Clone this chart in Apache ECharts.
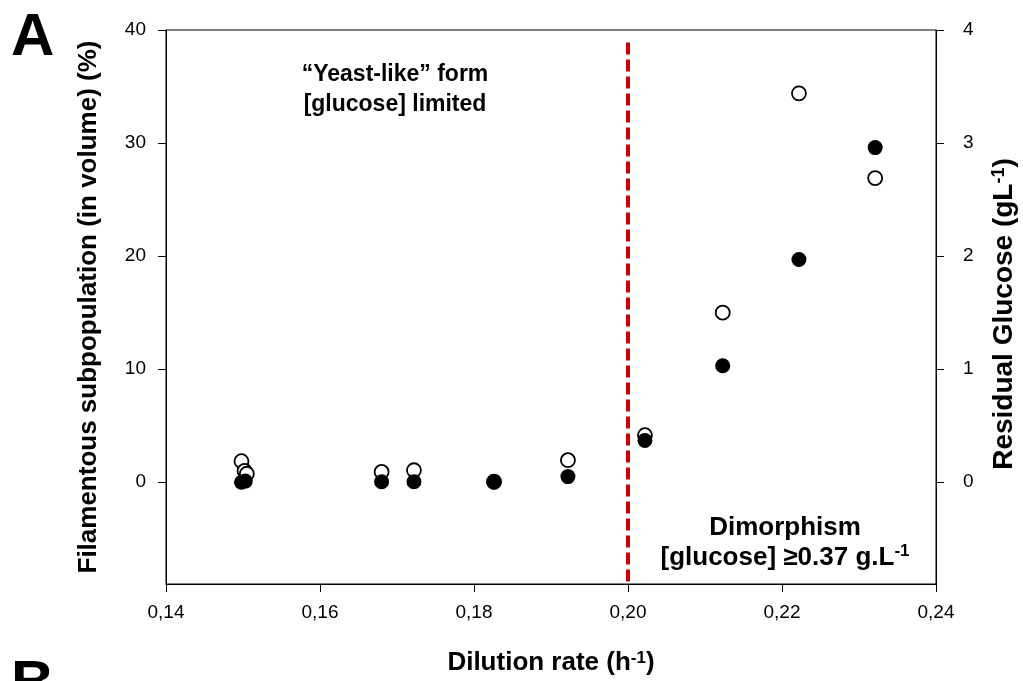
<!DOCTYPE html>
<html>
<head>
<meta charset="utf-8">
<script src="https://cdn.jsdelivr.net/npm/echarts@6/dist/echarts.min.js"></script>
<style>
body{margin:0;padding:0;background:#fff;}
#chart{width:1023px;height:681px;}
</style>
</head>
<body>
<div id="chart"></div>
<script type="text/javascript">
// open circles: residual glucose (g/L), right axis
var openX = [0.1498, 0.1502, 0.1505, 0.1680, 0.1722, 0.1826, 0.1922, 0.2022, 0.2123, 0.2222, 0.2321];
var openY = [0.186, 0.100, 0.075, 0.091, 0.106, 0.005, 0.195, 0.416, 1.50, 3.44, 2.69];
// filled circles: filamentous subpopulation (%), left axis
var filledX = [0.1498, 0.1503, 0.1680, 0.1722, 0.1826, 0.1922, 0.2022, 0.2123, 0.2222, 0.2321];
var filledY = [0.0, 0.1, 0.05, 0.05, 0.0, 0.5, 3.7, 10.3, 19.7, 29.6];

var xTicks = [0.14, 0.16, 0.18, 0.20, 0.22, 0.24];
var leftTicks = [0, 10, 20, 30, 40];
var rightTicks = [0, 1, 2, 3, 4];

var font = 'Liberation Sans, Arial, sans-serif';

var chart = echarts.init(document.getElementById('chart'));

function pairs(xs, ys){
    return xs.map(function(x, i){ return [x, ys[i]]; });
}

var titleRich = {
    a: {fontSize: 26, fontWeight: 'bold', fontFamily: font, color: '#000'},
    s: {fontSize: 17, fontWeight: 'bold', fontFamily: font, color: '#000', verticalAlign: 'top'}
};
var rightRich = {
    a: {fontSize: 28, fontWeight: 'bold', fontFamily: font, color: '#000'},
    s: {fontSize: 18, fontWeight: 'bold', fontFamily: font, color: '#000', verticalAlign: 'top'}
};

var option = {
    animation: false,
    grid: {
        left: 166, right: 87, top: 30, bottom: 97,
        outerBoundsMode: 'none',
        show: true, borderColor: '#000', borderWidth: 1
    },
    xAxis: {
        type: 'value',
        min: 0.14, max: 0.24, interval: 0.02,
        splitLine: {show: false},
        axisLine: {onZero: false, lineStyle: {color: '#000', width: 1}},
        axisTick: {show: true, length: 8, customValues: xTicks, lineStyle: {color: '#000'}},
        axisLabel: {
            customValues: xTicks, margin: 19, fontSize: 19, fontFamily: font, color: '#000',
            formatter: function(v){ return v.toFixed(2).replace('.', ','); }
        },
        name: '{a|Dilution rate (h}{s|-1}{a|)}',
        nameLocation: 'middle', nameGap: 66,
        nameTextStyle: {rich: titleRich}
    },
    yAxis: [{
        type: 'value',
        min: -9, max: 40,
        splitLine: {show: false},
        axisLine: {show: true, onZero: false, lineStyle: {color: '#000', width: 1}},
        axisTick: {show: true, length: 8, customValues: leftTicks, lineStyle: {color: '#000'}},
        axisLabel: {customValues: leftTicks, margin: 20, fontSize: 19, fontFamily: font, color: '#000'},
        name: 'Filamentous subpopulation (in volume) (%)',
        nameLocation: 'middle', nameGap: 64, nameRotate: 90,
        nameTextStyle: {fontSize: 26, fontWeight: 'bold', fontFamily: font, color: '#000'}
    }, {
        type: 'value',
        position: 'right',
        min: -0.9, max: 4,
        splitLine: {show: false},
        axisLine: {show: true, onZero: false, lineStyle: {color: '#000', width: 1}},
        axisTick: {show: true, length: 8, customValues: rightTicks, lineStyle: {color: '#000'}},
        axisLabel: {customValues: rightTicks, margin: 27, fontSize: 19, fontFamily: font, color: '#000'},
        name: '{a|Residual Glucose (gL}{s|-1}{a|)}',
        nameLocation: 'middle', nameGap: 54, nameRotate: 90,
        nameTextStyle: {rich: rightRich, padding: [0, 14, 0, 0]}
    }],
    series: [{
        name: 'glucose',
        type: 'scatter',
        yAxisIndex: 1,
        symbol: 'circle',
        symbolSize: 14,
        itemStyle: {color: '#fff', borderColor: '#000', borderWidth: 1.8, opacity: 1},
        data: pairs(openX, openY)
    }, {
        name: 'filamentous',
        type: 'scatter',
        yAxisIndex: 0,
        symbol: 'circle',
        symbolSize: 15,
        itemStyle: {color: '#000', opacity: 1},
        data: pairs(filledX, filledY),
        markLine: {
            silent: true,
            symbol: 'none',
            label: {show: false},
            lineStyle: {color: '#cc0000', width: 4, type: [12, 5], opacity: 1},
            data: [[{coord: [0.20, 38.9]}, {coord: [0.20, -9]}]]
        }
    }],
    graphic: [
        {type: 'text', left: 11, top: 8, style: {text: 'A', fontSize: 60, fontWeight: 'bold', fontFamily: font, fill: '#000'}},
        {type: 'text', left: 11, top: 655, style: {text: 'B', fontSize: 60, fontWeight: 'bold', fontFamily: font, fill: '#000'}},
        {type: 'text', x: 395, y: 90, style: {
            text: '\u201cYeast-like\u201d form\n[glucose] limited', align: 'center', verticalAlign: 'middle',
            lineHeight: 30, fontSize: 23, fontWeight: 'bold', fontFamily: font, fill: '#000'}},
        {type: 'text', x: 785, y: 543, style: {
            text: '{a|Dimorphism}\n{a|[glucose] \u22650.37 g.L}{s|-1}', align: 'center', verticalAlign: 'middle',
            rich: {
                a: {fontSize: 26, fontWeight: 'bold', fontFamily: font, fill: '#000', lineHeight: 30},
                s: {fontSize: 17, fontWeight: 'bold', fontFamily: font, fill: '#000', verticalAlign: 'top', lineHeight: 30}
            }}}
    ]
};
chart.setOption(option);
</script>
</body>
</html>
